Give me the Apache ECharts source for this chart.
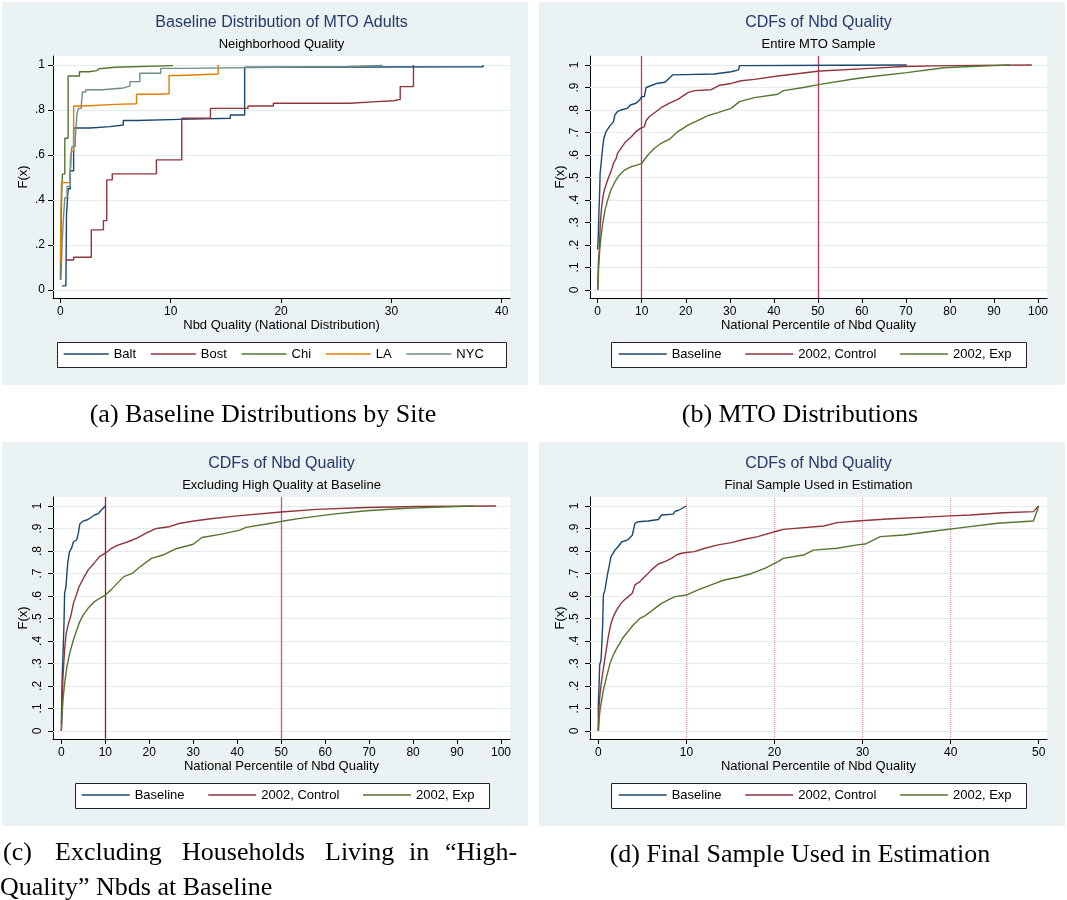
<!DOCTYPE html>
<html>
<head>
<meta charset="utf-8">
<script src="https://cdn.jsdelivr.net/npm/echarts@6/dist/echarts.min.js"></script>
<style>
html, body { margin: 0; padding: 0; background: #fff; }
#chart { width: 1067px; height: 900px; }
</style>
</head>
<body>
<div id="chart"></div>
<script>
var FONT = 'Liberation Sans, Arial, sans-serif';
var SERIF = 'Liberation Serif, Times New Roman, serif';

var siteNames = ['Balt', 'Bost', 'Chi', 'LA', 'NYC'];
var siteColors = ['#1A476F', '#90353B', '#55752F', '#E37E00', '#6E8E84'];
var groupNames = ['Baseline', '2002, Control', '2002, Exp'];
var groupColors = ['#1A476F', '#90353B', '#55752F'];

// (a) baseline CDF by site: [x, F(x)] at each jump
var baltData = [[0.15,0.018],[0.5,0.025],[0.55,0.33],[0.7,0.45],[0.9,0.53],[1.2,0.72],[2.7,0.726],[4.5,0.733],[5.7,0.753],[6.9,0.758],[10.8,0.763],[15.4,0.778],[16.7,0.99],[18,0.992],[38.3,1.0]];
var bostData = [[0.5,0.133],[1.2,0.145],[2.8,0.267],[3.9,0.308],[4.2,0.489],[4.7,0.516],[8.7,0.578],[11.0,0.763],[13.6,0.807],[17.0,0.818],[19.3,0.83],[26.2,0.837],[28.7,0.841],[30.2,0.847],[30.8,0.904],[32.0,1.0]];
var chiData = [[0,0.044],[0.08,0.35],[0.18,0.515],[0.4,0.674],[0.7,0.951],[1.73,0.97],[2.6,0.975],[3.3,0.983],[3.5,0.99],[4.95,0.997],[10.2,1.0]];
var laData = [[0,0.12],[0.03,0.27],[0.05,0.355],[0.1,0.477],[0.85,0.52],[0.95,0.55],[1.0,0.615],[1.15,0.618],[1.2,0.818],[2.05,0.825],[5.0,0.828],[6.9,0.87],[9.0,0.872],[9.85,0.953],[10.8,0.96],[14.3,1.0]];
var nycData = [[0.05,0.044],[0.15,0.2],[0.25,0.3],[0.4,0.41],[0.6,0.46],[0.9,0.58],[1.05,0.637],[1.35,0.67],[1.5,0.785],[1.65,0.807],[1.9,0.822],[2.0,0.88],[2.3,0.89],[3.8,0.898],[5.7,0.906],[6.3,0.926],[7.2,0.963],[9.1,0.985],[11.1,0.993],[26,0.998],[29.2,1.0]];

// (b) entire MTO sample
var mtoBase = [[0,0.18],[0.15,0.25],[0.25,0.33],[0.45,0.44],[0.55,0.52],[0.75,0.556],[0.9,0.59],[1.15,0.637],[1.4,0.674],[1.9,0.704],[2.65,0.726],[3.0,0.733],[3.6,0.748],[3.9,0.778],[4.5,0.793],[5.3,0.8],[6.7,0.807],[7.4,0.822],[8.7,0.83],[9.5,0.844],[10.0,0.859],[10.6,0.86],[11.0,0.9],[13.6,0.919],[15.3,0.923],[17.0,0.956],[19.7,0.957],[26.5,0.96],[30.3,0.97],[32.0,0.978],[32.2,0.997],[55,0.999],[70.2,1.0]];
var mtoControl = [[0,0],[0.15,0.12],[0.4,0.19],[0.6,0.3],[0.9,0.37],[1.2,0.415],[1.5,0.444],[2.1,0.48],[2.65,0.51],[3.0,0.526],[3.6,0.563],[4.2,0.585],[4.5,0.607],[5.3,0.63],[6.4,0.66],[7.6,0.68],[8.7,0.704],[9.7,0.718],[10.6,0.726],[11.0,0.753],[11.7,0.77],[13.3,0.793],[14.4,0.81],[16.3,0.83],[18.2,0.847],[20.5,0.877],[22,0.886],[25.8,0.89],[27.7,0.91],[30.3,0.918],[32.6,0.93],[35.6,0.936],[40.9,0.951],[50.5,0.973],[61.9,0.985],[69.5,0.993],[79.3,0.997],[98.6,1.0]];
var mtoExp = [[0,0],[0.23,0.104],[0.45,0.178],[0.76,0.237],[1.14,0.296],[1.67,0.356],[2.27,0.4],[3.0,0.444],[3.9,0.48],[4.9,0.51],[6.1,0.533],[7.6,0.548],[9.1,0.556],[10,0.563],[11.4,0.6],[12.9,0.63],[14.4,0.652],[16.3,0.67],[18.2,0.704],[20.5,0.733],[22.7,0.753],[25,0.775],[27.3,0.788],[30.3,0.807],[32.2,0.837],[35.6,0.855],[40.9,0.87],[42.2,0.886],[46.7,0.9],[50.5,0.914],[58.1,0.938],[61.9,0.948],[70.2,0.966],[78.6,0.988],[84.6,0.993],[89.9,0.997],[93.7,1.0]];

// (c) excluding high quality at baseline
var exclBase = [[0,0.03],[0.15,0.21],[0.3,0.3],[0.44,0.375],[0.6,0.478],[0.74,0.61],[1.04,0.64],[1.26,0.7],[1.48,0.752],[1.85,0.796],[2.37,0.815],[2.74,0.84],[3.5,0.85],[3.85,0.877],[4.2,0.92],[4.96,0.933],[6.07,0.94],[6.8,0.95],[7.55,0.96],[8.4,0.966],[9.0,0.98],[10,1.0]];
var exclControl = [[0,0],[0.15,0.12],[0.37,0.24],[0.74,0.36],[1.1,0.434],[1.63,0.478],[2.2,0.515],[2.74,0.567],[3.5,0.61],[4,0.64],[5,0.678],[6.07,0.715],[7.55,0.748],[8.67,0.775],[10,0.79],[11.3,0.81],[12.7,0.825],[15,0.84],[17.2,0.857],[19.4,0.88],[21.6,0.9],[24.6,0.908],[26.8,0.922],[29.8,0.932],[33.5,0.942],[39.4,0.955],[50,0.973],[58,0.985],[69.4,0.993],[80.8,0.998],[98.9,1.0]];
var exclExp = [[0,0],[0.15,0.064],[0.37,0.138],[0.74,0.21],[1.26,0.286],[2,0.353],[2.74,0.404],[3.5,0.449],[4.2,0.486],[4.96,0.515],[6.07,0.545],[7.55,0.575],[9,0.593],[10,0.604],[11.3,0.627],[12.7,0.656],[14.2,0.686],[16.1,0.7],[17.9,0.73],[20.5,0.767],[23.1,0.782],[26.1,0.81],[30,0.83],[32,0.86],[36.4,0.875],[40.6,0.893],[42,0.905],[46.7,0.92],[50.5,0.933],[54.3,0.945],[61.8,0.964],[69.4,0.979],[78.5,0.99],[84.6,0.994],[93.7,1.0]];

// (d) final sample used in estimation
var finalBase = [[0,0],[0,0.12],[0.075,0.197],[0.15,0.293],[0.3,0.316],[0.38,0.375],[0.45,0.434],[0.49,0.478],[0.57,0.604],[0.75,0.627],[0.87,0.656],[1.02,0.693],[1.21,0.73],[1.43,0.775],[1.89,0.804],[2.26,0.82],[2.64,0.84],[3.32,0.849],[3.85,0.87],[4.15,0.923],[4.53,0.93],[5.66,0.933],[6.8,0.94],[7.17,0.96],[8.5,0.964],[8.75,0.978],[9.06,0.98],[10,1.0]];
var finalControl = [[0,0],[0.075,0.108],[0.19,0.167],[0.38,0.227],[0.57,0.278],[0.83,0.345],[1.13,0.419],[1.43,0.478],[1.7,0.508],[2.08,0.538],[2.57,0.567],[2.94,0.582],[3.4,0.597],[3.85,0.612],[4.15,0.649],[4.72,0.664],[5.28,0.686],[6.04,0.716],[6.8,0.742],[7.55,0.753],[8.3,0.767],[8.87,0.782],[9.43,0.79],[10,0.793],[10.9,0.797],[12.1,0.812],[13.6,0.827],[15.1,0.837],[16.6,0.852],[18.1,0.864],[20.4,0.89],[21,0.896],[25.6,0.911],[27.1,0.926],[29.4,0.933],[32.8,0.942],[40,0.956],[42.2,0.96],[46,0.97],[49.4,0.975],[50,1.0]];
var finalExp = [[0,0],[0.075,0.049],[0.19,0.093],[0.38,0.138],[0.57,0.182],[0.94,0.241],[1.32,0.3],[1.7,0.338],[2.08,0.367],[2.45,0.39],[2.75,0.412],[3.2,0.434],[3.96,0.471],[4.72,0.5],[5.28,0.511],[6.42,0.545],[7.17,0.567],[8.68,0.597],[10,0.604],[11.3,0.627],[12.8,0.649],[14.3,0.671],[15.85,0.683],[17.4,0.7],[18.9,0.723],[20.4,0.753],[21,0.767],[23.3,0.782],[24.4,0.804],[27.1,0.812],[29.4,0.827],[30.3,0.831],[32,0.864],[34.7,0.871],[38.4,0.89],[41.5,0.905],[45.3,0.923],[49.4,0.933],[50,1.0]];

var yTicks5 = [0, 0.2, 0.4, 0.6, 0.8, 1];
var yTicks10 = [0, 0.1, 0.2, 0.3, 0.4, 0.5, 0.6, 0.7, 0.8, 0.9, 1];
var xTicks40 = [0, 10, 20, 30, 40];
var xTicks100 = [0, 10, 20, 30, 40, 50, 60, 70, 80, 90, 100];
var xTicks50 = [0, 10, 20, 30, 40, 50];

var chart = echarts.init(document.getElementById('chart'));

function fmtY(v) {
	if (v === 0) return '0';
	if (v === 1) return '1';
	return String(v).replace(/^0/, '');
}

function makeX(gi, min, max, ticks, name) {
	return {
		type: 'value', gridIndex: gi, min: min, max: max,
		name: name, nameLocation: 'middle', nameGap: 21,
		nameTextStyle: { fontSize: 13, color: '#000', fontFamily: FONT },
		axisLine: { onZero: false, lineStyle: { color: '#000', width: 1 } },
		axisTick: { customValues: ticks, length: 5, lineStyle: { color: '#000' } },
		axisLabel: { customValues: ticks, margin: 8, fontSize: 12, color: '#000', fontFamily: FONT },
		splitLine: { show: false }
	};
}

function makeY(gi, ticks, rot) {
	return {
		type: 'value', gridIndex: gi, min: -0.036, max: 1.04,
		name: 'F(x)', nameLocation: 'middle', nameGap: 23,
		nameTextStyle: { fontSize: 13, color: '#000', fontFamily: FONT },
		axisLine: { onZero: false, lineStyle: { color: '#000', width: 1 } },
		axisTick: { customValues: ticks, length: 5, lineStyle: { color: '#000' } },
		axisLabel: { customValues: ticks, rotate: rot, margin: rot ? 9 : 8, fontSize: 12, color: '#000', fontFamily: FONT, formatter: fmtY },
		splitLine: { show: false }
	};
}

function cdf(name, data, color, gi, step) {
	return {
		name: name, type: 'line', xAxisIndex: gi, yAxisIndex: gi,
		data: data, step: step ? 'end' : false, symbol: 'none', z: 10,
		lineStyle: { color: color, width: 1.4 }, itemStyle: { color: color },
		emphasis: { disabled: true }
	};
}

// horizontal grid lines and vertical reference lines
function refLines(gi, yTicks, xLines) {
	var items = yTicks.map(function(v) {
		return { yAxis: v, lineStyle: { color: '#E3ECEF', width: 1, type: 'solid' } };
	});
	for (var i in xLines) {
		items.push({ xAxis: xLines[i].x, lineStyle: { color: xLines[i].color, width: xLines[i].width || 1.3, type: xLines[i].type || 'solid' } });
	}
	return {
		type: 'line', xAxisIndex: gi, yAxisIndex: gi, data: [], z: 1, silent: true,
		markLine: { silent: true, symbol: 'none', label: { show: false }, animation: false, data: items }
	};
}

function legendFor(names, left, top, w, gap) {
	return {
		data: names, left: left, top: top, padding: 0, orient: 'horizontal',
		itemWidth: w, itemHeight: 14, itemGap: gap, selectedMode: false,
		itemStyle: { opacity: 0, borderWidth: 0 },
		lineStyle: { width: 1.4 },
		textStyle: { fontSize: 13, color: '#000', fontFamily: FONT }
	};
}

function titleFor(text, sub, cx, top) {
	return {
		text: text, subtext: sub, left: cx, top: top, textAlign: 'center', padding: 0, itemGap: 5,
		textStyle: { fontSize: 16, fontWeight: 'normal', color: '#23386B', fontFamily: FONT, lineHeight: 18 },
		subtextStyle: { fontSize: 13, color: '#000', fontFamily: FONT, lineHeight: 15 }
	};
}

var grids = [
	{ left: 53, top: 56, width: 457, height: 242 },
	{ left: 590, top: 56, width: 457, height: 242 },
	{ left: 53, top: 497, width: 457, height: 242 },
	{ left: 590, top: 497, width: 457, height: 242 }
];
grids.forEach(function(g) { g.show = true; g.backgroundColor = '#fff'; g.borderWidth = 0; });

var series = [
	refLines(0, yTicks5, []),
	refLines(1, yTicks10, [{ x: 10, color: '#C4355B' }, { x: 50, color: '#C4355B' }]),
	refLines(2, yTicks10, [{ x: 10, color: '#A3122E' }, { x: 50, color: '#D4557A' }]),
	refLines(3, yTicks10, [{ x: 10, color: '#EC8FA2', width: 1, type: 'dotted' }, { x: 20, color: '#EC8FA2', width: 1, type: 'dotted' }, { x: 30, color: '#EC8FA2', width: 1, type: 'dotted' }, { x: 40, color: '#EC8FA2', width: 1, type: 'dotted' }])
];
var siteData = [baltData, bostData, chiData, laData, nycData];
for (var i = 0; i < siteNames.length; i++) {
	series.push(cdf(siteNames[i], siteData[i], siteColors[i], 0, true));
}
var panelData = [[mtoBase, mtoControl, mtoExp], [exclBase, exclControl, exclExp], [finalBase, finalControl, finalExp]];
for (var p = 0; p < 3; p++) {
	for (var k = 0; k < 3; k++) {
		series.push(cdf(groupNames[k], panelData[p][k], groupColors[k], p + 1, false));
	}
}

var bgRect = function(x, y, w, h) {
	return { type: 'rect', z: -100, silent: true, shape: { x: x, y: y, width: w, height: h }, style: { fill: '#EAF2F3' } };
};
var boxRect = function(x, y, w, h) {
	return { type: 'rect', z: 1, silent: true, shape: { x: x, y: y, width: w, height: h }, style: { fill: '#fff', stroke: '#222', lineWidth: 1 } };
};
var caption = function(text, x, y, align) {
	return { type: 'text', silent: true, x: x, y: y, style: { text: text, fill: '#000', font: '26px ' + SERIF, textAlign: align || 'center', textVerticalAlign: 'middle' } };
};

var graphics = [
	bgRect(2, 2, 526, 383), bgRect(539, 2, 526, 383),
	bgRect(2, 442, 526, 384), bgRect(539, 442, 526, 384),
	boxRect(57.5, 342.5, 449, 25), boxRect(611.5, 342.5, 415, 25),
	boxRect(75.5, 783.5, 414, 25), boxRect(611.5, 783.5, 415, 25),
	caption('(a) Baseline Distributions by Site', 263, 415),
	caption('(b) MTO Distributions', 800, 415),
	caption('(d) Final Sample Used in Estimation', 800, 855),
	caption('Quality\u201D Nbds at Baseline', 0, 888, 'left')
];
// justified first line of caption (c)
var capWords = ['(c)', 'Excluding', 'Households', 'Living', 'in', '\u201CHigh-'];
var capLeft = [3, 55, 182, 325, 409, 445];
for (var w = 0; w < capWords.length; w++) {
	graphics.push(caption(capWords[w], capLeft[w], 853, 'left'));
}

var option = {
	animation: false,
	backgroundColor: '#fff',
	title: [
		titleFor('Baseline Distribution of MTO Adults', 'Neighborhood Quality', 281.5, 14),
		titleFor('CDFs of Nbd Quality', 'Entire MTO Sample', 818.5, 14),
		titleFor('CDFs of Nbd Quality', 'Excluding High Quality at Baseline', 281.5, 455),
		titleFor('CDFs of Nbd Quality', 'Final Sample Used in Estimation', 818.5, 455)
	],
	legend: [
		legendFor(siteNames, 63, 347.5, 45, 14),
		legendFor(groupNames, 618, 347.5, 48, 23),
		legendFor(groupNames, 81, 788.5, 48, 23),
		legendFor(groupNames, 618, 788.5, 48, 23)
	],
	grid: grids,
	xAxis: [
		makeX(0, -0.67, 40.75, xTicks40, 'Nbd Quality (National Distribution)'),
		makeX(1, -1.75, 102.05, xTicks100, 'National Percentile of Nbd Quality'),
		makeX(2, -1.9, 102.05, xTicks100, 'National Percentile of Nbd Quality'),
		makeX(3, -0.95, 50.94, xTicks50, 'National Percentile of Nbd Quality')
	],
	yAxis: [makeY(0, yTicks5, 0), makeY(1, yTicks10, 90), makeY(2, yTicks10, 90), makeY(3, yTicks10, 90)],
	graphic: graphics,
	series: series
};
chart.setOption(option);
</script>
</body>
</html>
